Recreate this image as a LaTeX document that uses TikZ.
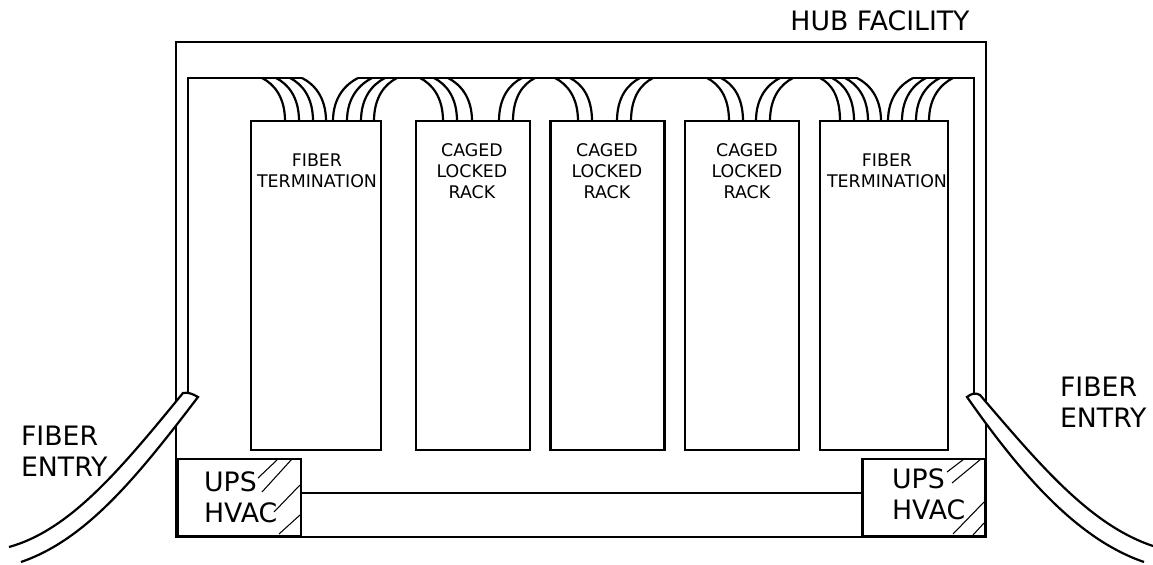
\documentclass[tikz,border=0pt]{standalone}
\usepackage{fontspec}
\setmainfont{DejaVu Sans}
\usepackage{tikz}
\usetikzlibrary{positioning}

\begin{document}
\begin{tikzpicture}[x=0.2mm,y=-0.2mm,line width=1.25pt]
      \tikzstyle{rack}=[draw,rectangle,minimum height=65.8mm,inner sep=0pt];
      \tikzstyle{ups} =[draw,rectangle,minimum width=24.6mm,minimum height=15.4mm,inner sep=0pt];
      \tikzstyle{tag} =[align=center,inner sep=0pt,font=\fontsize{9.9pt}{12pt}\selectfont];
      \tikzstyle{big} =[align=left,inner sep=0pt,font=\fontsize{15.2pt}{17.6pt}\selectfont];
      \tikzstyle{hatch}=[line width=0.6pt];
      \tikzstyle{cable}=[draw,fill=white];
      \useasboundingbox (0,0) rectangle (1153,565);
      % building and conduit
      \node[draw,rectangle,minimum width=162mm,minimum height=99mm,inner sep=0pt] (hub) at (581,289.5) {};
      \coordinate (condl) at (188,393);
      \coordinate (condr) at (974,393);
      \draw (condl) -- (188,78) -- (302,78);
      \draw (358,78) -- (857,78);
      \draw (913,78) -- (974,78) -- (condr);
      % racks
      \node[rack,minimum width=26mm]   (rackone)   at (316,285.5) {};
      \node[rack,minimum width=22.8mm] (racktwo)   at (473,285.5) {};
      \node[rack,minimum width=22.8mm] (rackthree) at (607.5,285.5) {};
      \node[rack,minimum width=22.8mm] (rackfour)  at (742,285.5) {};
      \node[rack,minimum width=25.6mm] (rackfive)  at (884,285.5) {};
      \node[tag] (tagone)   at (317,171) {FIBER\\TERMINATION};
      \node[tag] (tagtwo)   at (472,171) {CAGED\\LOCKED\\RACK};
      \node[tag] (tagthree) at (607,171) {CAGED\\LOCKED\\RACK};
      \node[tag] (tagfour)  at (747,171) {CAGED\\LOCKED\\RACK};
      \node[tag] (tagfive)  at (887,171) {FIBER\\TERMINATION};
      % fibers, going left from the rack top
      \foreach \x/\t in {285/262,299/276,313/290,326/302,443/420,457/434,472/448,
                         578/555,592/570,729/707,743/721,840/820,854/832,868/845,881/857}
        \draw (\x,121) .. controls (\x,97) and (\t+12,84) .. (\t,78);
      % fibers, going right from the rack top
      \foreach \x/\t in {333/358,347/372,361/385,374/397,499/522,513/535,
                         617/640,631/653,756/780,770/793,888/913,902/926,916/940,929/953}
        \draw (\x,121) .. controls (\x,97) and (\t-12,84) .. (\t,78);
      % ups rooms
      \node[ups] (upsl) at (239.5,497.5) {};
      \node[ups] (upsr) at (924,497.5) {};
      \draw (upsl.east |- 0,493) -- (upsr.west |- 0,493);
      \draw[line width=1.7pt] (176,537) -- (986,537);
      \node[big,anchor=west] (upslabl) at (203,497) {UPS\\HVAC};
      \node[big,anchor=west] (upslabr) at (891,494) {UPS\\HVAC};
      \draw[hatch] (258,478) -- (277,460);
      \draw[hatch] (262,492) -- (292,459);
      \draw[hatch] (274,512) -- (300,485);
      \draw[hatch] (279,534) -- (300,515);
      \draw[hatch] (947,472) -- (964,459);
      \draw[hatch] (952,483) -- (981,459);
      \draw[hatch] (953,534) -- (984,502);
      \draw[hatch] (973,535) -- (984,523);
      % cables coming in
      \draw[cable] (9,547) .. controls (70,530) and (120,470) .. (183,393)
            .. controls (188,392) and (193,394) .. (198,397)
            .. controls (135,480) and (85,540) .. (21,562);
      \draw[cable] (1153,546) .. controls (1090,525) and (1040,465) .. (980,395)
            .. controls (975,392) and (971,394) .. (967,397)
            .. controls (1025,480) and (1080,540) .. (1144,562);
      \node[big,anchor=west] (entryl) at (20,451) {FIBER\\ENTRY};
      \node[big,anchor=west] (entryr) at (1059,402) {FIBER\\ENTRY};
      \node[big,anchor=center] (hubname) at (880,21) {HUB FACILITY};
    \end{tikzpicture}
\end{document}
